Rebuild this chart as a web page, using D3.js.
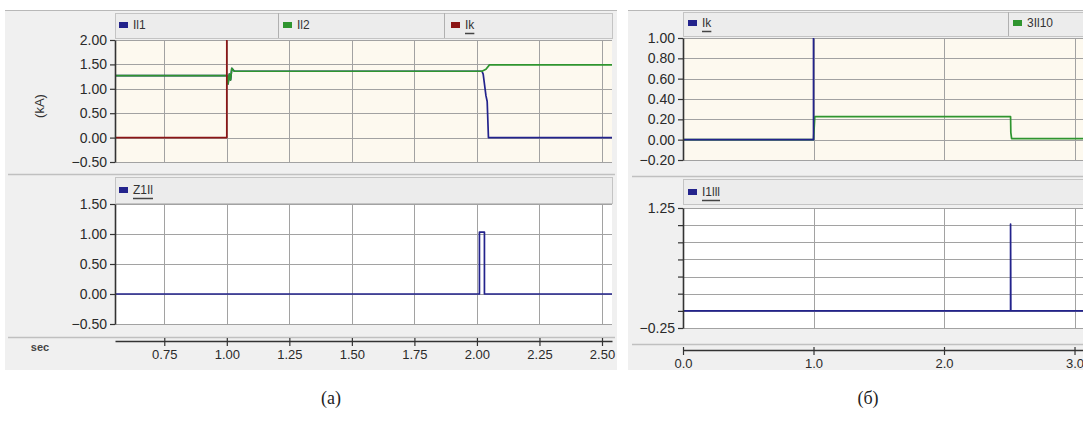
<!DOCTYPE html>
<html>
<head>
<meta charset="utf-8">
<script src="https://cdn.jsdelivr.net/npm/d3@7"></script>
<style>
  html, body { margin: 0; padding: 0; background: #fff; }
  svg { display: block; }
</style>
</head>
<body>
<svg id="chart" width="1083" height="427" font-family="'Liberation Sans', Arial, sans-serif"></svg>
<script>
// ---- (a) left recorder window: time in seconds, currents in kA ----
const leftXTicks = [0.75, 1.00, 1.25, 1.50, 1.75, 2.00, 2.25, 2.50];
const leftTopYTicks = [-0.5, 0.0, 0.5, 1.0, 1.5, 2.0];
const leftBottomYTicks = [-0.5, 0.0, 0.5, 1.0, 1.5];

// line current Il1 [t, kA]
const il1 = [[0.553, 1.27], [1.000, 1.27], [1.005, 1.10], [1.010, 1.30], [1.015, 1.18],
             [1.020, 1.42], [1.030, 1.36], [2.020, 1.36], [2.025, 1.30], [2.030, 1.10],
             [2.036, 0.86], [2.041, 0.74], [2.046, 0.00], [2.540, 0.00]];
// line current Il2 [t, kA]
const il2 = [[0.553, 1.27], [1.000, 1.27], [1.005, 1.10], [1.010, 1.30], [1.015, 1.18],
             [1.020, 1.42], [1.030, 1.36], [2.020, 1.36], [2.036, 1.40], [2.050, 1.49],
             [2.540, 1.49]];
// fault current Ik [t, kA] (above the scale after inception)
const ikLeft = [[0.553, 0.00], [1.000, 0.00], [1.000, 2.60], [2.540, 2.60]];
// zone 1 pickup Z1Il [t, state]
const z1il = [[0.553, 0.00], [2.010, 0.00], [2.010, 1.03], [2.030, 1.03], [2.030, 0.00],
              [2.540, 0.00]];

// ---- (б) right recorder window ----
const rightXTicks = [0.0, 1.0, 2.0, 3.0];
const rightTopYTicks = [-0.2, 0.0, 0.2, 0.4, 0.6, 0.8, 1.0];
const rightBottomYTicks = [-0.25, -0.036, 0.179, 0.393, 0.607, 0.821, 1.036, 1.25];
const rightBottomYLabels = [-0.25, 1.25];

// fault current Ik [t, value] (above the scale after inception)
const ikRight = [[0.000, 0.00], [1.000, 0.00], [1.000, 1.60], [3.065, 1.60]];
// zero-sequence current 3Il10 [t, value]
const i3l10 = [[0.000, 0.00], [1.000, 0.00], [1.010, 0.226], [2.510, 0.226], [2.512, 0.07],
               [2.518, 0.01], [3.065, 0.01]];
// trip signal I1lll [t, state]
const i1lll = [[0.000, -0.036], [2.510, -0.036], [2.510, 1.05], [2.512, -0.036], [3.065, -0.036]];

const NAVY = "#23238c", GREEN = "#2f952f", DARKRED = "#8c1616";
const CREAM = "#fdf9ef", PANEL = "#f0f0f0", STRIP = "#ececec";
const GRID = "#a2a2a2", AXIS = "#333";
const SANS = "'Liberation Sans', Arial, sans-serif";
const SERIF = "'Liberation Serif', 'Times New Roman', serif";

const svg = d3.select("#chart");
svg.append("rect").attr("width", 1083).attr("height", 427).attr("fill", "#fff");

// scales
const lx = d3.scaleLinear().domain([0.553, 2.54]).range([115, 612]);
const ly1 = d3.scaleLinear().domain([-0.5, 2.0]).range([162, 40]);
const ly2 = d3.scaleLinear().domain([-0.5, 1.5]).range([324, 204]);
const rx = d3.scaleLinear().domain([0, 3.065]).range([683, 1083]);
const ry1 = d3.scaleLinear().domain([-0.2, 1.0]).range([160, 38]);
const ry2 = d3.scaleLinear().domain([-0.25, 1.25]).range([328, 208]);

// window backgrounds
function windowFrame(x0, x1) {
  svg.append("rect").attr("x", x0).attr("y", 10).attr("width", x1 - x0).attr("height", 360)
    .attr("fill", PANEL);
  svg.append("line").attr("x1", x0).attr("x2", x1).attr("y1", 10.5).attr("y2", 10.5)
    .attr("stroke", "#b8b8b8");
}
windowFrame(5, 617);
windowFrame(628, 1083);

// legend strip with separators
function legendStrip(x0, x1, y0, y1, seps) {
  svg.append("rect").attr("x", x0 + 0.5).attr("y", y0 + 0.5).attr("width", x1 - x0)
    .attr("height", y1 - y0).attr("fill", STRIP).attr("stroke", "#c4c4c4");
  seps.forEach(s => svg.append("line").attr("x1", s + 0.5).attr("x2", s + 0.5)
    .attr("y1", y0).attr("y2", y1).attr("stroke", "#b0b0b0"));
}
function legendItem(x, yMid, color, label, underline) {
  svg.append("rect").attr("x", x).attr("y", yMid - 3).attr("width", 9).attr("height", 6)
    .attr("fill", color);
  const t = svg.append("text").attr("x", x + 14).attr("y", yMid + 4)
    .attr("font-size", 12).attr("fill", "#333").text(label);
  if (underline) {
    const w = t.node().getComputedTextLength();
    svg.append("line").attr("x1", x + 14).attr("x2", x + 14 + w)
      .attr("y1", yMid + 8.5).attr("y2", yMid + 8.5).attr("stroke", "#444").attr("stroke-width", 1.5);
  }
}

// plot body: background, grid, y axis, series
function plot(id, x, y, bg, xGrid, yGrid, yLabels, fmt, series) {
  const [x0, x1] = x.range();
  const [yb, yt] = y.range();
  svg.append("rect").attr("x", x0).attr("y", yt).attr("width", x1 - x0).attr("height", yb - yt)
    .attr("fill", bg);
  const g = svg.append("g");
  g.selectAll(".hg").data(yGrid).join("line")
    .attr("x1", x0).attr("x2", x1)
    .attr("y1", d => Math.round(y(d)) + 0.5).attr("y2", d => Math.round(y(d)) + 0.5)
    .attr("stroke", GRID);
  g.selectAll(".vg").data(xGrid).join("line")
    .attr("y1", yt).attr("y2", yb)
    .attr("x1", d => Math.round(x(d)) + 0.5).attr("x2", d => Math.round(x(d)) + 0.5)
    .attr("stroke", GRID);

  svg.append("clipPath").attr("id", id).append("rect")
    .attr("x", x0).attr("y", yt).attr("width", x1 - x0).attr("height", yb - yt);
  const line = d3.line().x(d => x(d[0])).y(d => y(d[1]));
  series.forEach(s => {
    svg.append("path").attr("clip-path", `url(#${id})`).datum(s.data)
      .attr("d", line).attr("fill", "none").attr("stroke", s.color)
      .attr("stroke-width", 1.7).attr("stroke-linejoin", "round");
  });

  const ax = d3.axisLeft(y).tickValues(yGrid).tickSize(5).tickSizeOuter(0).tickPadding(3)
    .tickFormat(d => yLabels.includes(d) ? fmt(d) : "");
  const ag = svg.append("g").attr("transform", `translate(${x0},0)`).call(ax);
  ag.attr("font-family", SANS);
  ag.select(".domain").attr("stroke", AXIS).attr("stroke-width", 1.6);
  ag.selectAll(".tick line").attr("stroke", AXIS).attr("stroke-width", 1.2);
  ag.selectAll("text").attr("font-size", 14).attr("fill", "#2a2a2a");
}

function xAxis(x, yPos, ticks, fmt) {
  const ax = d3.axisBottom(x).tickValues(ticks).tickSize(5).tickSizeOuter(0).tickPadding(4)
    .tickFormat(fmt);
  const g = svg.append("g").attr("transform", `translate(0,${yPos})`).call(ax);
  g.attr("font-family", SANS);
  g.select(".domain").attr("stroke", AXIS).attr("stroke-width", 1.6);
  g.selectAll(".tick line").attr("stroke", AXIS).attr("stroke-width", 1.2).attr("y1", -3);
  g.selectAll("text").attr("font-size", 13).attr("fill", "#2a2a2a");
}

function sep(x0, x1, yv) {
  svg.append("line").attr("x1", x0).attr("x2", x1).attr("y1", yv + 0.5).attr("y2", yv + 0.5)
    .attr("stroke", "#c0c0c0").attr("stroke-width", 1.5);
}

// ===== (a) =====
const f2 = d3.format(".2f");
legendStrip(115, 612, 13, 38, [278, 444]);
legendItem(119, 25, NAVY, "Il1", false);
legendItem(283, 25, GREEN, "Il2", false);
legendItem(451, 25, DARKRED, "Ik", true);
plot("clipLT", lx, ly1, CREAM, leftXTicks, leftTopYTicks, leftTopYTicks, f2, [
  { data: il1, color: NAVY },
  { data: il2, color: GREEN },
  { data: ikLeft, color: DARKRED }
]);
sep(8, 615, 174);
legendStrip(115, 612, 177, 203, []);
legendItem(119, 190, NAVY, "Z1Il", true);
plot("clipLB", lx, ly2, "#fff", leftXTicks, leftBottomYTicks, leftBottomYTicks, f2, [
  { data: z1il, color: NAVY }
]);
sep(8, 615, 337);
xAxis(lx, 341, leftXTicks, f2);
svg.append("text").attr("x", 40).attr("y", 351).attr("text-anchor", "middle")
  .attr("font-size", 11).attr("font-weight", "bold").attr("fill", "#444").text("sec");
svg.append("text").attr("transform", "translate(44,106) rotate(-90)").attr("text-anchor", "middle")
  .attr("font-size", 13).attr("fill", "#333").text("(kA)");

// ===== (б) =====
legendStrip(683, 1083, 12, 36, [1008]);
legendItem(688, 23, NAVY, "Ik", true);
legendItem(1013, 23, GREEN, "3Il10", false);
plot("clipRT", rx, ry1, CREAM, [1.0, 2.0, 3.0], rightTopYTicks, rightTopYTicks, f2, [
  { data: i3l10, color: GREEN },
  { data: ikRight, color: NAVY }
]);
sep(632, 1083, 176);
legendStrip(683, 1083, 179, 204, []);
legendItem(688, 192, NAVY, "I1lll", true);
plot("clipRB", rx, ry2, "#fff", [1.0, 2.0, 3.0], rightBottomYTicks, rightBottomYLabels, f2, [
  { data: i1lll, color: NAVY }
]);
sep(632, 1083, 344);
xAxis(rx, 350, rightXTicks, d3.format(".1f"));

// captions
svg.append("text").attr("x", 331).attr("y", 404).attr("text-anchor", "middle")
  .attr("font-family", SERIF).attr("font-size", 18).attr("fill", "#222").text("(a)");
svg.append("text").attr("x", 868).attr("y", 404).attr("text-anchor", "middle")
  .attr("font-family", SERIF).attr("font-size", 18).attr("fill", "#222").text("(б)");
</script>
</body>
</html>
